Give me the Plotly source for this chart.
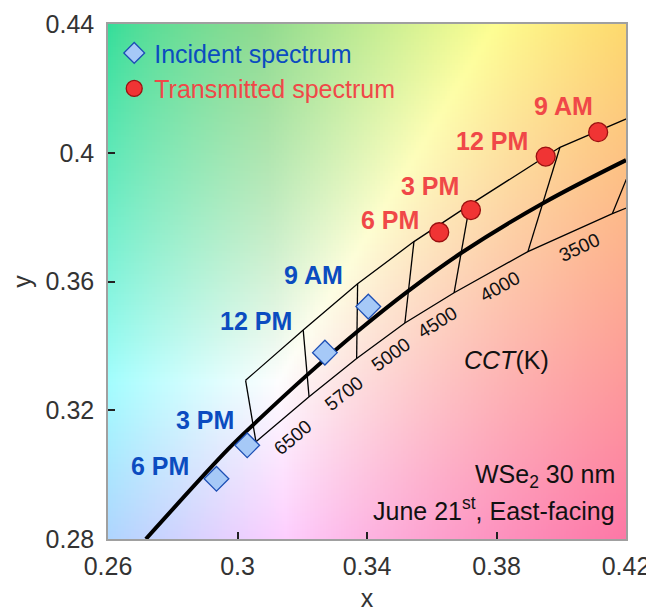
import numpy as np
import plotly.graph_objects as go

# ---------------- data ----------------
times = ["9 AM", "12 PM", "3 PM", "6 PM"]
inc_x = [0.3404, 0.3270, 0.3030, 0.2935]
inc_y = [0.3522, 0.3379, 0.3091, 0.2987]
tra_x = [0.4114, 0.3952, 0.3721, 0.3623]
tra_y = [0.4064, 0.3988, 0.3822, 0.3753]

# Planckian locus
pl_x = [0.2717, 0.2971, 0.3054, 0.3219, 0.3373, 0.3528, 0.3693, 0.3945, 0.4200]
pl_y = [0.2800, 0.3079, 0.3160, 0.3313, 0.3447, 0.3571, 0.3690, 0.3844, 0.3977]

# CCT quadrangle boundaries (upper / lower vertex of each isotherm)
up_x = [0.3025, 0.3203, 0.3371, 0.3545, 0.3717, 0.3996, 0.4293]
up_y = [0.3293, 0.3449, 0.3593, 0.3724, 0.3838, 0.4017, 0.4145]
lo_x = [0.3057, 0.3221, 0.3368, 0.3517, 0.3669, 0.3897, 0.4158, 0.4305]
lo_y = [0.3102, 0.3242, 0.3361, 0.3471, 0.3565, 0.3693, 0.3811, 0.3870]

cct_labels = ["6500", "5700", "5000", "4500", "4000", "3500"]

x_ticks = [0.26, 0.30, 0.34, 0.38, 0.42]
x_ticktext = ["0.26", "0.3", "0.34", "0.38", "0.42"]
y_ticks = [0.28, 0.32, 0.36, 0.40, 0.44]
y_ticktext = ["0.28", "0.32", "0.36", "0.4", "0.44"]

FONT = "Arial, Liberation Sans, sans-serif"
BLUE_T = "#0b4cc0"
RED_T = "#f04848"

fig = go.Figure()

# ------------- chromaticity background -------------
n = 200
gx = 0.26 + (np.arange(n) + 0.5) * (0.16 / n)
gy = 0.28 + (np.arange(n) + 0.5) * (0.16 / n)
XX, YY = np.meshgrid(gx, gy)
Xc = XX / YY
Zc = (1 - XX - YY) / YY
R = 3.2406 * Xc - 1.5372 - 0.4986 * Zc
G = -0.9689 * Xc + 1.8758 + 0.0415 * Zc
B = 0.0557 * Xc - 0.2040 + 1.0570 * Zc
rgb = np.stack([R, G, B], axis=-1)
rgb = np.clip(rgb, 0, None)
rgb = rgb / rgb.max(axis=-1, keepdims=True)
rgb = np.where(rgb <= 0.0031308, 12.92 * rgb, 1.055 * np.power(rgb, 1 / 2.4) - 0.055)
# darken green-dominant areas a little (reference is less luminous there)
green_dom = np.clip(rgb[..., 1] - np.maximum(rgb[..., 0], rgb[..., 2]), 0, None)
rgb = rgb * (1 - 0.4 * green_dom)[..., None]
rgb = 0.95 * rgb + 0.05 * np.array([0.92, 0.92, 0.95])
img = np.clip(rgb * 255, 0, 255).astype(np.uint8)

fig.add_trace(go.Image(z=img, x0=gx[0], dx=0.16 / n, y0=gy[0], dy=0.16 / n,
                       hoverinfo="skip", zsmooth="fast"))

# ------------- grid -------------
fig.add_trace(go.Scatter(x=up_x, y=up_y, mode="lines",
                         line=dict(color="black", width=1.3), showlegend=False, hoverinfo="skip"))
fig.add_trace(go.Scatter(x=lo_x, y=lo_y, mode="lines",
                         line=dict(color="black", width=1.3), showlegend=False, hoverinfo="skip"))
for i in range(len(up_x)):
    fig.add_trace(go.Scatter(x=[up_x[i], lo_x[i]], y=[up_y[i], lo_y[i]], mode="lines",
                             line=dict(color="black", width=1.3), showlegend=False, hoverinfo="skip"))

# Planckian locus
fig.add_trace(go.Scatter(x=pl_x, y=pl_y, mode="lines", line=dict(color="black", width=4, shape="spline"),
                         showlegend=False, hoverinfo="skip"))

# ------------- markers -------------
fig.add_trace(go.Scatter(x=inc_x, y=inc_y, mode="markers",
                         name=f"<span style='color:{BLUE_T}'>Incident spectrum</span>",
                         marker=dict(symbol="diamond", size=19, color="#a6c9f7",
                                     line=dict(color="#1d4fb5", width=1.3))))
fig.add_trace(go.Scatter(x=tra_x, y=tra_y, mode="markers",
                         name=f"<span style='color:{RED_T}'>Transmitted spectrum</span>",
                         marker=dict(symbol="circle", size=19, color="#f03434",
                                     line=dict(color="#9a1010", width=1.3))))

ann = []
inc_shift = [(-55, 32), (-69, 32), (-42, 25), (-56, 13)]
tra_shift = [(-35, 26), (-54, 16), (-41, 24), (-49, 12)]
for t, x, y, s in zip(times, inc_x, inc_y, inc_shift):
    ann.append(dict(x=x, y=y, text=f"<b>{t}</b>", showarrow=False, xshift=s[0], yshift=s[1],
                    xanchor="center", yanchor="middle",
                    font=dict(family=FONT, size=25, color=BLUE_T)))
for t, x, y, s in zip(times, tra_x, tra_y, tra_shift):
    ann.append(dict(x=x, y=y, text=f"<b>{t}</b>", showarrow=False, xshift=s[0], yshift=s[1],
                    xanchor="center", yanchor="middle",
                    font=dict(family=FONT, size=25, color=RED_T)))

cct_pos = [(0.3171, 0.3114, -40), (0.3329, 0.3251, -38), (0.3474, 0.3372, -36),
           (0.3616, 0.3474, -32), (0.3811, 0.3583, -29), (0.4055, 0.3707, -25)]
for lab, (x, y, a) in zip(cct_labels, cct_pos):
    ann.append(dict(x=x, y=y, text=lab, showarrow=False, textangle=a,
                    xanchor="center", yanchor="middle",
                    font=dict(family=FONT, size=19, color="#111111")))

ann.append(dict(x=(506 - 108) / 518, y=(539 - 360) / 515, xref="paper", yref="paper",
                text="<i>CCT</i>(K)", showarrow=False, xanchor="center", yanchor="middle",
                font=dict(family=FONT, size=25, color="#111111")))
ann.append(dict(x=(617 - 108) / 518, y=(539 - 476) / 515, xref="paper", yref="paper",
                text="WSe<sub>2</sub> 30 nm", showarrow=False, xanchor="right", yanchor="middle",
                font=dict(family=FONT, size=25, color="#111111")))
ann.append(dict(x=(617 - 108) / 518, y=(539 - 509) / 515, xref="paper", yref="paper",
                text="June 21<sup>st</sup>, East-facing", showarrow=False, xanchor="right",
                yanchor="middle",
                font=dict(family=FONT, size=25, color="#111111")))

# page body adds an 8px margin, so the figure is 8px smaller and margins shifted
fig.update_layout(
    width=646, height=605,
    margin=dict(l=100, r=28, t=16, b=74, autoexpand=False),
    paper_bgcolor="white", plot_bgcolor="white",
    font=dict(family=FONT, size=25, color="#333333"),
    showlegend=True,
    legend=dict(x=0.012, y=0.988, xanchor="left", yanchor="top", bgcolor="rgba(0,0,0,0)",
                font=dict(family=FONT, size=25), itemsizing="trace"),
    annotations=ann,
    xaxis=dict(range=[0.26, 0.42], tickvals=x_ticks, ticktext=x_ticktext, ticks="inside",
               ticklen=7, tickwidth=1.5, tickcolor="#222222", showgrid=False, zeroline=False,
               showline=True, linecolor="#a0a0a0", linewidth=1.5, mirror=True,
               title=dict(text="x", font=dict(size=25, color="#333333"), standoff=11),
               ticklabelstandoff=4, autorange=False),
    yaxis=dict(range=[0.28, 0.44], tickvals=y_ticks, ticktext=y_ticktext, ticks="inside",
               ticklen=7, tickwidth=1.5, tickcolor="#222222", showgrid=False, zeroline=False,
               showline=True, linecolor="#a0a0a0", linewidth=1.5, mirror=True,
               title=dict(text="y", font=dict(size=25, color="#333333"), standoff=12),
               ticklabelstandoff=7, autorange=False, scaleanchor=False),
)

fig.write_html("out.html")
